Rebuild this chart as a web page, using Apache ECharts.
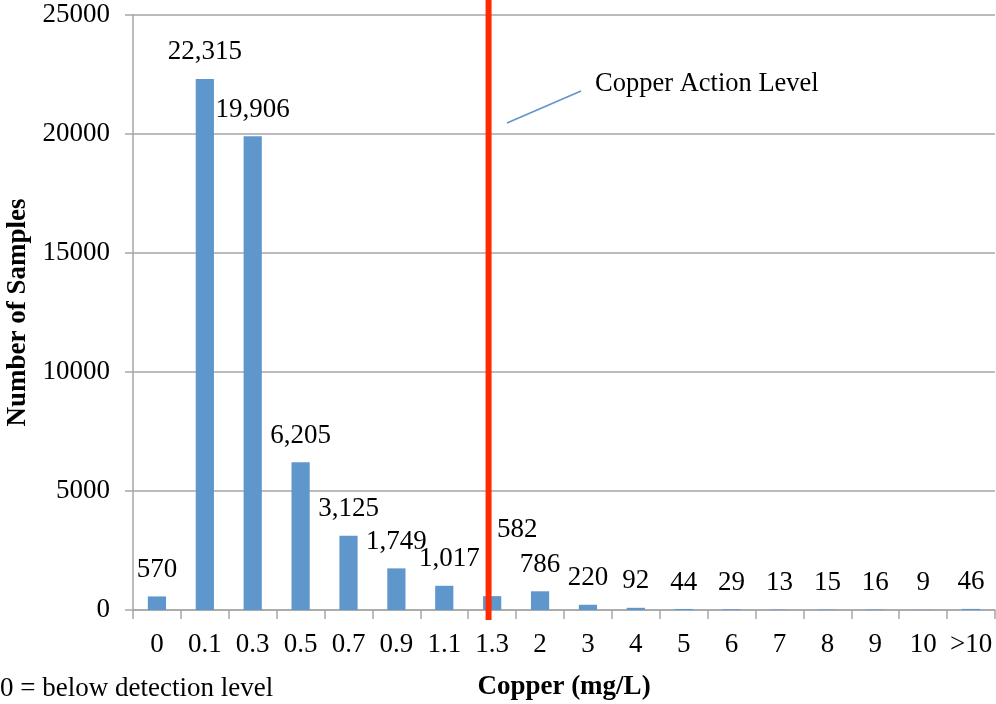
<!DOCTYPE html>
<html>
<head>
<meta charset="utf-8">
<script src="https://cdn.jsdelivr.net/npm/echarts@6/dist/echarts.min.js"></script>
<style>
  html, body { margin: 0; padding: 0; background: #fff; }
  #chart { width: 996px; height: 704px; }
</style>
</head>
<body>
<div id="chart"></div>
<script>
// Copper concentration bins (mg/L) and sample counts
const categories = ['0', '0.1', '0.3', '0.5', '0.7', '0.9', '1.1', '1.3', '2', '3', '4', '5', '6', '7', '8', '9', '10', '>10'];
const sampleCounts = [570, 22315, 19906, 6205, 3125, 1749, 1017, 582, 786, 220, 92, 44, 29, 13, 15, 16, 9, 46];
const yTicks = [0, 5000, 10000, 15000, 20000, 25000];
const actionLevelBin = '1.3';

const FONT = '"Liberation Serif", "DejaVu Serif", serif';
const GRAY = '#A6A6A6';

const chart = echarts.init(document.getElementById('chart'));

// a few labels are nudged so they clear the action-level line
const labelOffsets = { '1,017': [5, 0], '582': [25, -40] };

chart.setOption({
  animation: false,
  grid: { left: 133, right: 1, top: 15, bottom: 94, containLabel: false, outerBoundsMode: 'none' },
  xAxis: {
    type: 'category',
    data: categories,
    name: 'Copper (mg/L)',
    nameLocation: 'middle',
    nameGap: 64,
    nameTextStyle: { fontFamily: FONT, fontSize: 27, fontWeight: 'bold', color: '#000' },
    axisLine: { lineStyle: { color: GRAY, width: 1.5 } },
    axisTick: { show: true, length: 9, alignWithLabel: false, lineStyle: { color: GRAY, width: 1.5 } },
    axisLabel: { fontFamily: FONT, fontSize: 27, color: '#000', margin: 21, interval: 0 },
    splitLine: { show: false }
  },
  yAxis: {
    type: 'value',
    min: yTicks[0],
    max: yTicks[yTicks.length - 1],
    interval: yTicks[1] - yTicks[0],
    name: 'Number of Samples',
    nameLocation: 'middle',
    nameGap: 96,
    nameRotate: 90,
    nameTextStyle: { fontFamily: FONT, fontSize: 27, fontWeight: 'bold', color: '#000' },
    axisLine: { show: true, lineStyle: { color: GRAY, width: 1.5 } },
    axisTick: { show: true, length: 8, inside: false, lineStyle: { color: GRAY, width: 1.5 } },
    axisLabel: { fontFamily: FONT, fontSize: 27, color: '#000', margin: 23, formatter: v => String(v) },
    splitLine: { show: true, lineStyle: { color: GRAY, width: 1.5 } }
  },
  series: [{
    type: 'bar',
    data: sampleCounts.map(v => {
      const text = v.toLocaleString('en-US');
      const item = { value: v };
      if (labelOffsets[text]) item.label = { offset: labelOffsets[text] };
      return item;
    }),
    barWidth: '38%',
    itemStyle: { color: '#5F97CC' },
    label: {
      show: true,
      position: 'top',
      distance: 13,
      fontFamily: FONT,
      fontSize: 27,
      color: '#000',
      formatter: p => p.value.toLocaleString('en-US')
    }
  }],
  graphic: [
    {
      type: 'line',
      shape: { x1: 507, y1: 123, x2: 581, y2: 91 },
      style: { stroke: '#5F97CC', lineWidth: 1.5 }
    },
    {
      type: 'text',
      left: 595,
      top: 71,
      style: { text: 'Copper Action Level', fontFamily: FONT, fontSize: 26.5, fill: '#000' }
    },
    {
      type: 'text',
      left: 0,
      top: 675,
      style: { text: '0 = below detection level', fontFamily: FONT, fontSize: 27, fill: '#000' }
    }
  ]
});

// Action-level marker: a red vertical line at the 1.3 mg/L bin, placed through the axis scale
const idx = categories.indexOf(actionLevelBin);
const px = chart.convertToPixel({ xAxisIndex: 0 }, idx) - 3.6;
const yBottom = chart.convertToPixel({ yAxisIndex: 0 }, 0);
chart.setOption({
  graphic: [
    {},
    {},
    {},
    {
      type: 'line',
      shape: { x1: px, y1: 0, x2: px, y2: yBottom + 10 },
      style: { stroke: '#FF2A00', lineWidth: 6 },
      z: 100
    }
  ]
});
</script>
</body>
</html>
